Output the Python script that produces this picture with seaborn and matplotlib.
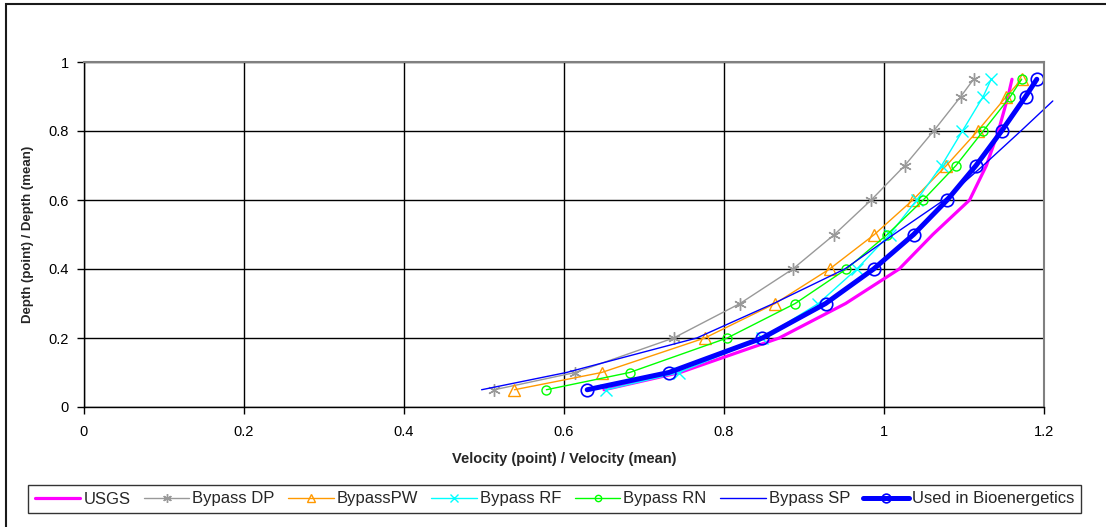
import matplotlib
matplotlib.use("Agg")
import matplotlib.pyplot as plt
import matplotlib.patches as mpatches
import seaborn as sns
import pandas as pd

# ---- data ----
depth = [0.05, 0.1, 0.2, 0.3, 0.4, 0.5, 0.6, 0.7, 0.8, 0.9, 0.95]
usgs = [0.650, 0.745, 0.869, 0.952, 1.019, 1.061, 1.107, 1.128, 1.143, 1.155, 1.160]
bypass_dp = [0.513, 0.614, 0.737, 0.820, 0.886, 0.938, 0.984, 1.026, 1.062, 1.096, 1.112]
bypass_pw = [0.538, 0.647, 0.776, 0.864, 0.932, 0.988, 1.036, 1.078, 1.117, 1.153, 1.172]
bypass_rf = [0.653, 0.744, 0.848, 0.918, 0.966, 1.007, 1.041, 1.072, 1.098, 1.124, 1.134]
bypass_rn = [0.578, 0.682, 0.804, 0.889, 0.953, 1.004, 1.049, 1.090, 1.124, 1.158, 1.172]
sp_depth = [0.05, 0.1, 0.2, 0.3, 0.4, 0.5, 0.6, 0.7, 0.8, 0.887]
bypass_sp = [0.497, 0.603, 0.766, 0.862, 0.951, 1.012, 1.075, 1.124, 1.171, 1.211]
bioenergetics = [0.629, 0.731, 0.848, 0.927, 0.987, 1.037, 1.079, 1.115, 1.147, 1.177, 1.191]

x_ticks = [0, 0.2, 0.4, 0.6, 0.8, 1.0, 1.2]
x_tick_labels = ["0", "0.2", "0.4", "0.6", "0.8", "1", "1.2"]
y_ticks = [0, 0.2, 0.4, 0.6, 0.8, 1.0]
y_tick_labels = ["0", "0.2", "0.4", "0.6", "0.8", "1"]

sns.set_theme(style="white")
plt.rcParams["font.family"] = ["Liberation Sans", "DejaVu Sans"]

W, H = 1106, 527
fig = plt.figure(figsize=(W / 100, H / 100), dpi=100)
fig.patch.set_facecolor("white")
ax = fig.add_axes([84 / W, 1 - 407 / H, (1044 - 84) / W, (407 - 62) / H])

# outer chart border
fig.add_artist(mpatches.Rectangle((6 / W, -0.2), 2, 1.2 - 4 / H,
                                  transform=fig.transFigure, fill=False,
                                  ec="#1a1a1a", lw=1.5))

series = [
    ("USGS", usgs, depth, dict(color="#FF00FF", lw=2.3, marker=None)),
    ("Bypass DP", bypass_dp, depth, dict(color="#999999", lw=1.0, marker=(6, 2, 0), ms=9, mew=1.0)),
    ("BypassPW", bypass_pw, depth, dict(color="#FF9900", lw=1.0, marker="^", ms=8, mfc="none", mew=1.0)),
    ("Bypass RF", bypass_rf, depth, dict(color="#00FFFF", lw=1.0, marker="x", ms=8, mew=1.0)),
    ("Bypass RN", bypass_rn, depth, dict(color="#00FF00", lw=1.0, marker="o", ms=6.5, mfc="none", mew=1.0)),
    ("Bypass SP", bypass_sp, sp_depth, dict(color="#0000FF", lw=1.0, marker=None)),
    ("Used in Bioenergetics", bioenergetics, depth, dict(color="#0000FF", lw=3.6, marker="o", ms=9, mfc="none", mew=1.2)),
]

for name, xs, ys, kw in series:
    df = pd.DataFrame({"x": xs, "y": ys})
    kw = dict(kw)
    color = kw.pop("color")
    lw = kw.pop("lw")
    marker = kw.pop("marker")
    extra = {}
    if marker is not None:
        extra["marker"] = marker
        extra["markeredgecolor"] = color
        if "mfc" in kw:
            extra["markerfacecolor"] = kw["mfc"]
        extra["markersize"] = kw.get("ms", 7)
        extra["markeredgewidth"] = kw.get("mew", 1.0)
    sns.lineplot(data=df, x="x", y="y", sort=False, estimator=None, ax=ax,
                 color=color, linewidth=lw, label=name, clip_on=False, **extra)

ax.set_xlim(0, 1.2)
ax.set_ylim(0, 1)
ax.set_xticks(x_ticks)
ax.set_xticklabels(x_tick_labels)
ax.set_yticks(y_ticks)
ax.set_yticklabels(y_tick_labels)
ax.grid(True, color="black", lw=1.0)
ax.set_axisbelow(True)
for s in ["left", "bottom"]:
    ax.spines[s].set_color("black")
    ax.spines[s].set_linewidth(1.0)
for s in ["top", "right"]:
    ax.spines[s].set_color("#808080")
    ax.spines[s].set_linewidth(1.5)
ax.tick_params(axis="both", which="major", direction="out", length=5, width=1,
               color="black", labelsize=10.5, labelcolor="black",
               bottom=True, left=True)
ax.tick_params(axis="x", pad=8)
ax.tick_params(axis="y", pad=6)

ax.set_xlabel("Velocity (point) / Velocity (mean)", fontsize=10.5, fontweight="bold", labelpad=9)
ax.set_ylabel("Depth (point) / Depth (mean)", fontsize=9.5, fontweight="bold", labelpad=10)

handles, labels = ax.get_legend_handles_labels()
ax.get_legend().remove()
leg = fig.legend(handles, labels, loc="center",
                 bbox_to_anchor=(28 / W, 1 - 513 / H, (1081 - 28) / W, 28 / H),
                 bbox_transform=fig.transFigure, mode="expand", ncol=7,
                 fontsize=12, handlelength=2.75, handletextpad=0.18,
                 columnspacing=0.3, borderpad=0.4, borderaxespad=0,
                 fancybox=False, frameon=True, markerscale=0.7)
leg.get_frame().set_edgecolor("black")
leg.get_frame().set_linewidth(1.0)

fig.savefig("out.png", dpi=100, facecolor="white")
